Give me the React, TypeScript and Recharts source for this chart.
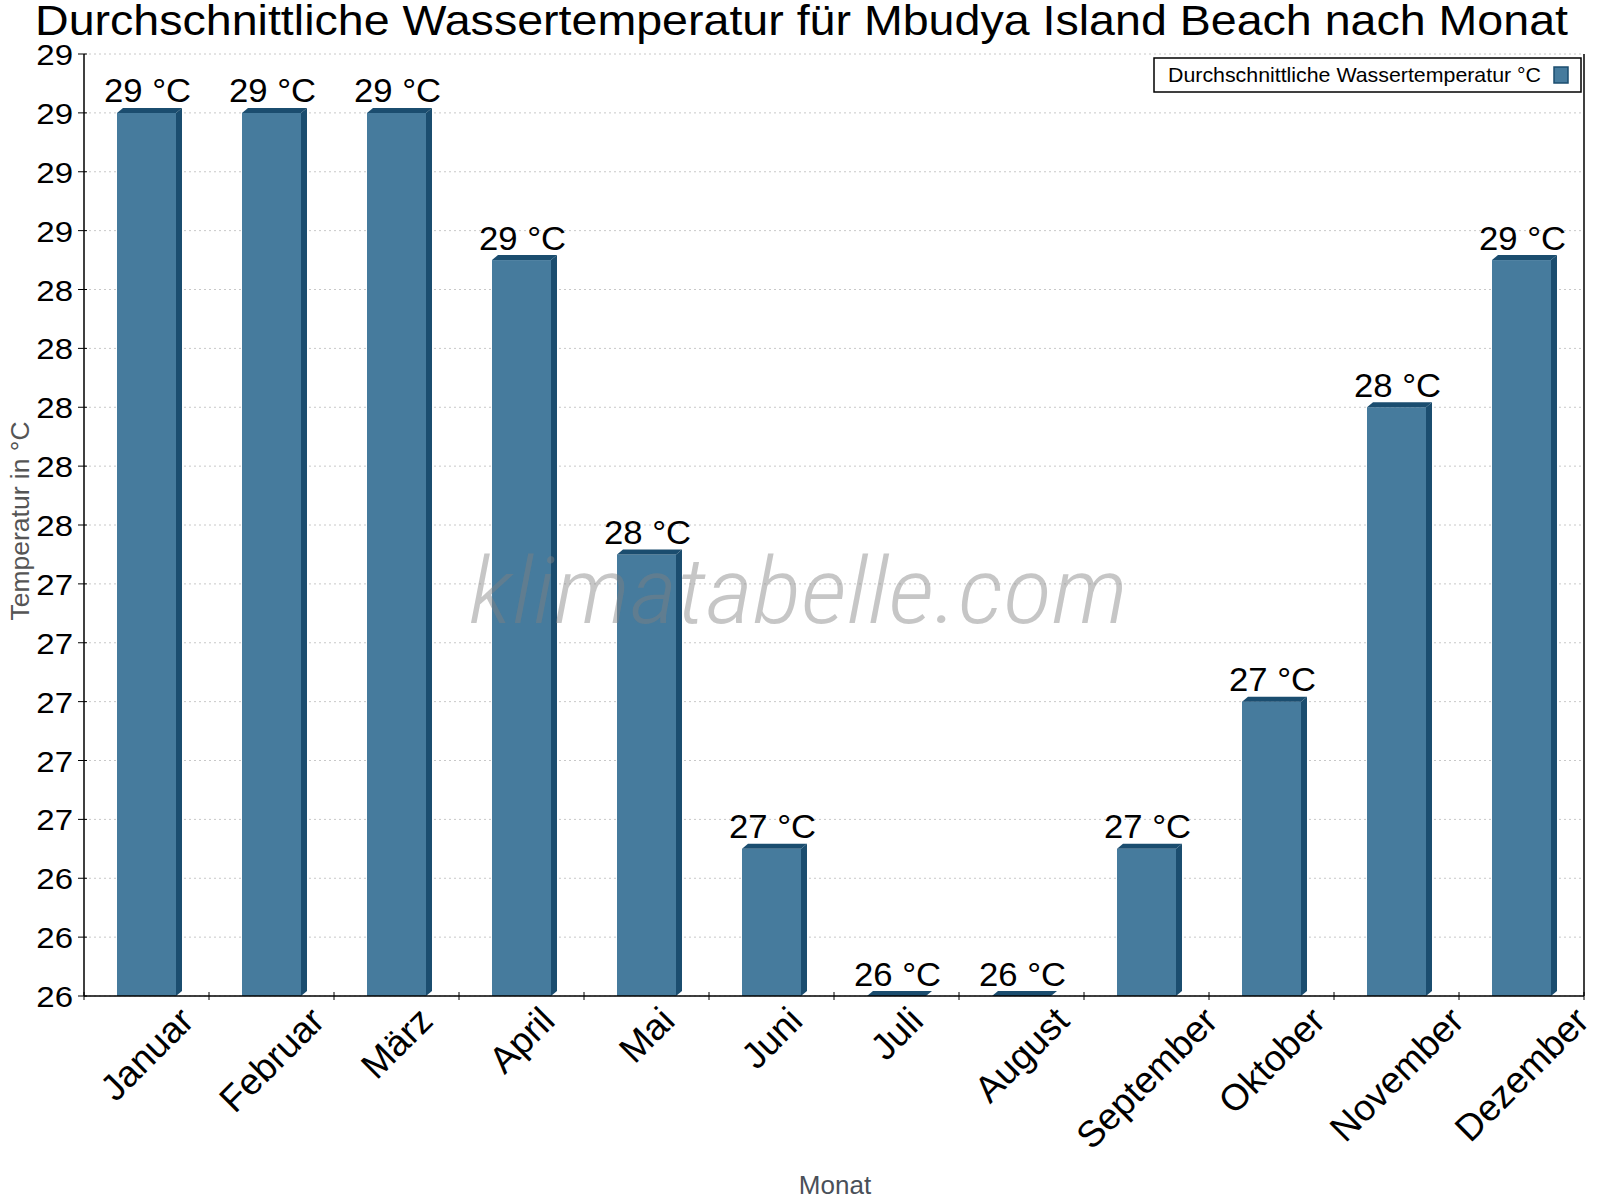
import { Bar, BarChart, CartesianGrid, LabelList, XAxis, YAxis } from 'recharts'

const months = [
  'Januar', 'Februar', 'März', 'April', 'Mai', 'Juni',
  'Juli', 'August', 'September', 'Oktober', 'November', 'Dezember',
]
const waterTemp = [29.0, 29.0, 29.0, 28.5, 27.5, 26.5, 26.0, 26.0, 26.5, 27.0, 28.0, 28.5]
const yTicks = [
  26, 26.2, 26.4, 26.6, 26.8, 27, 27.2, 27.4, 27.6, 27.8,
  28, 28.2, 28.4, 28.6, 28.8, 29, 29.2,
]

const data = months.map((month, i) => ({ month, temp: waterTemp[i] }))

const FONT = '"Liberation Sans", Arial, sans-serif'
const FRONT = '#467b9d'
const DARK = '#1b4d6f'
const W = 1600
const H = 1200
const HALF_BAND = (W - 84 - 16) / months.length / 2

const measureCtx = typeof document !== 'undefined' ? document.createElement('canvas').getContext('2d') : null
function textWidth(s: string, size: number) {
  if (!measureCtx) return s.length * size * 0.55
  measureCtx.font = `${size}px "Liberation Sans", Arial, sans-serif`
  return measureCtx.measureText(s).width
}

function Bar3D(props: any) {
  const { x, y, width, height } = props
  const d = 6
  const c = 5
  return (
    <g>
      <rect x={x} y={y} width={width} height={height} fill={FRONT} />
      <polygon
        points={`${x + width},${y} ${x + width + d},${y - c} ${x + width + d},${y + height - c} ${x + width},${y + height}`}
        fill={DARK}
      />
      <polygon points={`${x},${y} ${x + d},${y - c} ${x + width + d},${y - c} ${x + width},${y}`} fill={DARK} />
    </g>
  )
}

function BarLabel(props: any) {
  const { x, y, width, value } = props
  return (
    <g transform={`translate(${x + width / 2 + 1} ${y - 10.5}) scale(1.05 1)`}>
      <text x={0} y={0} textAnchor="middle" fontSize={33} fontFamily={FONT} fill="#000">
        {`${Math.round(value)} °C`}
      </text>
    </g>
  )
}

function MonthTick(props: any) {
  const { x, y, payload } = props
  const fs = 37
  const label = String(payload.value)
  const len = textWidth(label, fs)
  const cy = y + 8 + 0.7071 * (len + fs * 0.75) / 2
  return (
    <g>
      <line x1={x + HALF_BAND} y1={y - 4} x2={x + HALF_BAND} y2={y + 4} stroke="#000" />
      {payload.index === 0 && <line x1={x - HALF_BAND} y1={y - 4} x2={x - HALF_BAND} y2={y + 4} stroke="#000" />}
      <text
        x={x}
        y={cy}
        dy="0.35em"
        textAnchor="middle"
        fontSize={fs}
        fontFamily={FONT}
        fill="#000"
        transform={`rotate(-45 ${x} ${cy})`}
      >
        {label}
      </text>
    </g>
  )
}

function TempTick(props: any) {
  const { x, y, payload } = props
  return (
    <g>
      <line x1={x - 6} y1={y} x2={x + 3} y2={y} stroke="#000" />
      <g transform={`translate(${x - 11} ${y}) scale(1.1 1)`}>
        <text x={0} y={0} dy="0.37em" textAnchor="end" fontSize={30} fontFamily={FONT} fill="#000">
          {Math.round(payload.value)}
        </text>
      </g>
    </g>
  )
}

export default function App() {
  return (
    <div style={{ position: 'absolute', left: 0, top: 0, width: W, height: H, background: '#fff' }}>
      <BarChart width={W} height={H} data={data} margin={{ top: 54, right: 15, left: 0, bottom: 0 }}>
        <CartesianGrid stroke="#c8c8c8" strokeDasharray="2 3" vertical={false} />
        <XAxis
          dataKey="month"
          height={204}
          interval={0}
          tickLine={false}
          tickSize={0}
          tickMargin={0}
          tick={<MonthTick />}
          axisLine={{ stroke: '#000', strokeWidth: 1.5 }}
        />
        <YAxis
          width={84}
          domain={[26, 29.2]}
          ticks={yTicks}
          interval={0}
          tickLine={false}
          tickSize={0}
          tickMargin={0}
          tick={<TempTick />}
          axisLine={{ stroke: '#000', strokeWidth: 1.5 }}
        />
        <YAxis
          yAxisId="right"
          orientation="right"
          width={1}
          domain={[26, 29.2]}
          tick={false}
          tickLine={false}
          axisLine={{ stroke: '#000', strokeWidth: 1.5 }}
        />
        <Bar dataKey="temp" barSize={59} shape={<Bar3D />} isAnimationActive={false}>
          <LabelList dataKey="temp" content={<BarLabel />} />
        </Bar>
      </BarChart>
      <svg
        width={W}
        height={H}
        style={{ position: 'absolute', left: 0, top: 0, pointerEvents: 'none' }}
      >
        <text
          x={35}
          y={35}
          textLength={1533}
          lengthAdjust="spacingAndGlyphs"
          fontSize={43}
          fontFamily={FONT}
          fill="#000"
        >
          Durchschnittliche Wassertemperatur für Mbudya Island Beach nach Monat
        </text>
        <text
          x={469}
          y={623}
          textLength={659}
          lengthAdjust="spacingAndGlyphs"
          fontSize={92}
          fontStyle="italic"
          fontWeight={300}
          fontFamily='"Liberation Sans Narrow", "Roboto Condensed", Roboto, sans-serif'
          fill="#808080"
          fillOpacity={0.45}
        >
          klimatabelle.com
        </text>
        <rect x={1154} y={58} width={427} height={34} fill="#fff" stroke="#000" strokeWidth={1.5} />
        <text x={1168} y={81.5} textLength={373} lengthAdjust="spacingAndGlyphs" fontSize={21} fontFamily={FONT} fill="#000">
          Durchschnittliche Wassertemperatur °C
        </text>
        <rect x={1554} y={67} width={14} height={16} fill={FRONT} stroke={DARK} strokeWidth={1.5} />
        <text
          x={29}
          y={521}
          textAnchor="middle"
          fontSize={26.5}
          fontFamily={FONT}
          fill="#555"
          transform="rotate(-90 29 521)"
        >
          Temperatur in °C
        </text>
        <text x={835} y={1194} textAnchor="middle" fontSize={26} fontFamily={FONT} fill="#4a5059">
          Monat
        </text>
      </svg>
    </div>
  )
}
